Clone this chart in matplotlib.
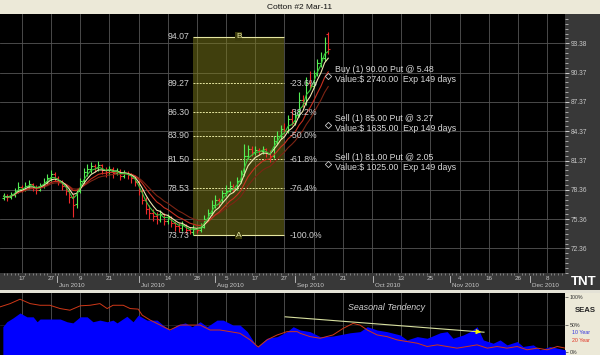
import numpy as np
import pandas as pd
import matplotlib
matplotlib.use("Agg")
import matplotlib.pyplot as plt
from matplotlib.patches import Rectangle

plt.rcParams['font.family'] = ['Liberation Sans', 'DejaVu Sans']

# daily bars, index 0 = first bar on screen (mid May 2010)
opens = [77.5, 77.7, 77.6, 77.8, 78.2, 78.7, 78.4, 78.8, 79.0, 78.7,
         78.4, 78.8, 79.2, 79.6, 80.0, 79.6, 79.2, 78.8, 78.3, 77.6,
         76.9, 78.2, 79.3, 80.2, 80.5, 80.8, 80.6, 80.9, 80.4, 80.2,
         80.5, 80.1, 80.3, 79.8, 80.1, 79.9, 79.6, 79.2, 78.2, 77.3,
         76.4, 76.0, 75.7, 75.3, 75.9, 75.2, 75.6, 75.0, 74.7, 74.5,
         74.8, 74.3, 74.1, 74.4, 74.3, 74.6, 75.4, 76.0, 76.8, 77.3,
         77.1, 78.0, 78.3, 78.8, 78.5, 79.3, 80.0, 81.8, 82.6, 82.2,
         82.5, 82.3, 82.6, 82.1, 81.8, 83.4, 83.9, 84.6, 84.4, 85.6,
         85.2, 86.0, 87.6, 87.3, 89.3, 89.0, 90.3, 91.4, 91.9, 94.3]
highs = [78.0, 77.9, 78.1, 78.6, 79.2, 78.9, 79.2, 79.4, 79.1, 78.9,
         79.1, 79.6, 80.0, 80.4, 80.2, 79.8, 79.4, 79.0, 78.5, 77.9,
         78.5, 79.6, 80.6, 81.0, 81.2, 81.0, 81.3, 81.0, 80.7, 80.8,
         80.7, 80.6, 80.5, 80.4, 80.3, 80.1, 79.8, 79.4, 78.5, 77.6,
         76.8, 76.4, 76.1, 76.3, 76.0, 75.9, 75.7, 75.2, 75.0, 75.2,
         74.9, 74.6, 74.8, 74.6, 75.0, 75.8, 76.4, 77.3, 77.8, 77.5,
         78.4, 78.9, 79.3, 79.0, 79.7, 80.4, 83.1, 83.0, 82.9, 82.9,
         82.7, 82.9, 82.7, 82.4, 83.9, 84.4, 85.0, 85.2, 86.0, 86.6,
         86.4, 88.4, 88.1, 89.9, 90.5, 90.6, 91.8, 92.5, 94.0, 94.5]
lows = [77.3, 77.2, 77.4, 77.6, 78.0, 78.1, 78.2, 78.5, 78.3, 77.9,
        78.2, 78.6, 79.0, 79.3, 79.3, 78.9, 78.4, 77.8, 77.0, 75.6,
        76.5, 78.0, 79.0, 79.8, 80.1, 80.2, 80.3, 80.0, 79.7, 79.9,
        79.6, 79.9, 79.4, 79.6, 79.5, 79.1, 78.8, 77.8, 76.9, 75.9,
        75.4, 75.2, 74.9, 75.1, 74.8, 74.9, 74.6, 74.2, 74.0, 74.2,
        73.9, 73.8, 73.73, 73.9, 74.1, 74.5, 75.2, 75.8, 76.5, 76.6,
        77.0, 77.7, 78.1, 78.1, 78.4, 79.1, 79.8, 81.5, 81.8, 81.9,
        81.9, 82.0, 81.7, 81.2, 81.6, 83.1, 83.6, 84.1, 84.2, 85.0,
        85.0, 85.8, 86.9, 87.1, 88.7, 88.8, 90.0, 90.9, 91.6, 92.3]
closes = [77.7, 77.6, 77.8, 78.2, 78.7, 78.5, 78.8, 79.0, 78.7, 78.4,
          78.8, 79.2, 79.6, 80.0, 79.6, 79.2, 78.8, 78.3, 77.6, 76.8,
          78.2, 79.3, 80.2, 80.5, 80.8, 80.6, 80.9, 80.4, 80.2, 80.5,
          80.1, 80.3, 79.8, 80.1, 79.9, 79.6, 79.2, 78.2, 77.3, 76.4,
          76.0, 75.7, 75.4, 75.9, 75.2, 75.6, 75.0, 74.7, 74.5, 74.8,
          74.3, 74.1, 74.4, 74.3, 74.6, 75.4, 76.0, 76.8, 77.3, 77.1,
          78.0, 78.3, 78.8, 78.5, 79.3, 80.0, 81.8, 82.6, 82.2, 82.5,
          82.3, 82.6, 82.1, 81.8, 83.4, 83.9, 84.6, 84.4, 85.6, 85.2,
          86.0, 87.6, 87.3, 89.3, 89.0, 90.3, 91.4, 91.9, 93.4, 92.8]

fib_prices = [94.07, 89.27, 86.30, 83.90, 81.50, 78.53, 73.73]
fib_pcts = ['', '-23.6%', '-38.2%', '-50.0%', '-61.8%', '-76.4%', '-100.0%']

right_ticks = [93.38, 90.37, 87.37, 84.37, 81.37, 78.36, 75.36, 72.36]

day_labels = ['17', '27', '9', '21', '', '14', '28', '5', '17', '27',
              '8', '21', '', '13', '25', '4', '16', '26', '8']
month_labels = ['Jun 2010', 'Jul 2010', 'Aug 2010', 'Sep 2010',
                'Oct 2010', 'Nov 2010', 'Dec 2010']
month_pos = [14.7, 37.0, 58.0, 79.9, 101.3, 122.3, 144.3]

put_strikes = [90.00, 85.00, 81.00]
put_text = ['Buy (1) 90.00 Put @ 5.48\nValue:$ 2740.00  Exp 149 days',
            'Sell (1) 85.00 Put @ 3.27\nValue:$ 1635.00  Exp 149 days',
            'Sell (1) 81.00 Put @ 2.05\nValue:$ 1025.00  Exp 149 days']

# seasonal tendency (% scale), bar index positions
seas10_x = [-0.2, 0.9, 2.6, 4.5, 6.4, 8.1, 9.2, 10.0, 12.7, 15.5, 17.4, 19.0,
            21.0, 22.9, 24.5, 26.4, 28.4, 30.0, 31.1, 33.8, 35.5, 36.9, 39.3,
            42.1, 43.7, 45.6, 47.6, 49.8, 51.7, 53.9, 55.8, 58.5, 60.2, 62.9,
            64.8, 66.8, 69.5, 72.2, 75.0, 77.7, 79.4, 81.3, 84.0, 86.8, 90.3,
            95.0, 97.7, 99.7, 102.4, 105.1, 108.7, 110.6, 113.4, 116.1, 119.7,
            121.6, 123.2, 126.0, 127.9, 129.8, 131.5, 134.2, 136.1, 138.0,
            140.8, 142.4, 145.2, 147.1, 149.8, 151.8, 154.0]
seas10 = [46, 55, 62, 71, 64, 64, 55, 60, 60, 60, 55, 53,
          64, 64, 55, 58, 55, 58, 53, 65, 55, 67, 58,
          58, 49, 40, 49, 53, 46, 55, 46, 58, 58, 49,
          49, 37, 9, 25, 28, 37, 46, 40, 37, 28, 29,
          35, 37, 46, 40, 37, 31, 22, 28, 25, 35,
          37, 25, 31, 37, 46, 22, 16, 22, 13,
          19, 10, 13, 4, 10, 7, 4]
seas20_x = [-1.0, 1.8, 4.5, 7.3, 10.0, 12.7, 15.5, 18.2, 21.0, 23.7, 26.4, 28.4,
            30.0, 32.8, 34.7, 36.9, 38.0, 40.2, 42.9, 45.6, 48.4, 51.1, 53.9,
            56.6, 59.3, 62.1, 64.8, 67.6, 69.8, 72.2, 75.0, 77.7, 80.5, 81.3,
            84.0, 86.8, 90.3, 93.1, 95.8, 97.7, 99.7, 102.4, 105.1, 107.9,
            110.6, 113.4, 116.1, 118.9, 121.6, 124.3, 127.1, 129.8, 132.6,
            135.3, 138.0, 140.8, 143.5, 146.3, 149.0, 151.8, 154.0]
seas20 = [82, 88, 96, 88, 85, 85, 79, 76, 84, 85, 88, 79,
          85, 85, 79, 78, 67, 58, 49, 40, 49, 49, 49,
          40, 40, 37, 34, 22, 9, 22, 31, 37, 37, 34,
          28, 25, 31, 43, 52, 49, 40, 31, 28, 22,
          19, 16, 10, 13, 10, 7, 10, 13, 7,
          10, 7, 10, 4, 7, 4, 10, 7]

W, H = 600, 355
BG = '#383838'
BEIGE = '#ECE9D8'
TXT = '#d0d0d0'
GRID = '#555555'


def fy(py):
    return 1 - py / H


fig = plt.figure(figsize=(6, 3.55), dpi=100, facecolor=BG)
ax = fig.add_axes([0, fy(273), 565 / W, (273 - 14) / H], facecolor='black')
ax2 = fig.add_axes([0, 0, 565 / W, (355 - 293) / H], facecolor='black')

# frame pieces (behind the axes so tick labels stay visible)
for rect in [(0, fy(14), 1, 14 / H, BEIGE),
             (0, fy(293), 1, 3 / H, '#e4e2d6'),
             (565 / W, 0, 35 / W, (355 - 293) / H, BEIGE)]:
    fig.patches.append(Rectangle(rect[:2], rect[2], rect[3], transform=fig.transFigure,
                                 facecolor=rect[4], edgecolor='none', zorder=-1))
fig.text(0.5, fy(7.5), 'Cotton #2 Mar-11', ha='center', va='center', fontsize=6, color='#111111')
fig.text(584 / W, fy(282), 'TNT', ha='center', va='center', fontsize=9.5, weight='bold',
         color='white', family=['Liberation Sans Narrow', 'Liberation Sans'])

xlim = (-0.98, 153.9)
grid_pos = 5 + 8 * np.arange(len(day_labels))

# ---- price panel ----
x = np.arange(len(closes))
o = np.array(opens)
c = np.array(closes)
cols = np.where(c >= o, '#55ee55', '#ee2a2a')
ax.vlines(x, lows, highs, colors=cols, lw=0.8, zorder=3)
ax.hlines(o, x - 0.5, x, colors=cols, lw=0.8, zorder=3)
ax.hlines(c, x, x + 0.5, colors=cols, lw=0.8, zorder=3)

s = pd.Series(closes)
for span, col in [(14, '#7c2414'), (9, '#c83020'), (5, '#f0e6b0'), (3, '#3cc83c')]:
    ax.plot(x, s.ewm(span=span).mean(), color=col, lw=0.8, zorder=4)

# fibonacci retracement box
box_l, box_r = 52, 76.9
ax.add_patch(Rectangle((box_l, fib_prices[-1]), box_r - box_l, fib_prices[0] - fib_prices[-1],
                       facecolor='#807e1a', alpha=0.5, edgecolor='none', zorder=1))
for i, (p, pct) in enumerate(zip(fib_prices, fib_pcts)):
    solid = i in (0, len(fib_prices) - 1)
    ax.hlines(p, box_l, box_r, colors='#e6e6a0', lw=0.8 if solid else 0.7,
              linestyles='-' if solid else (0, (2, 1.2)), zorder=2)
    ax.annotate(f'{p:.2f}', xy=(box_l, p), xytext=(-2.5, 0), textcoords='offset points',
                ha='right', va='center', fontsize=6.3, color=TXT, zorder=5)
    if pct:
        ax.annotate(pct, xy=(box_r, p), xytext=(4.2, 0), textcoords='offset points',
                    ha='left', va='center', fontsize=6.3, color=TXT, zorder=5)
for p, lab in [(fib_prices[0], 'B'), (fib_prices[-1], 'A')]:
    ax.text((box_l + box_r) / 2, p, lab, ha='center', va='center', fontsize=6, color='#e6e6a0',
            bbox=dict(facecolor='#3c3b0c', edgecolor='none', pad=0.6), zorder=5)

# option legs
for strike, txt in zip(put_strikes, put_text):
    ax.plot(89, strike, marker='D', ms=3.2, mfc='none', mec='#c8c8c8', mew=0.6, zorder=5)
    ax.annotate(txt, xy=(89, strike), xytext=(4.8, 1.2), textcoords='offset points',
                ha='left', va='center', fontsize=6.3, color='#d8d8d8', linespacing=1.1, zorder=5)

ax.set_xlim(*xlim)
ax.set_ylim(69.85, 96.38)
for sp in ax.spines.values():
    sp.set_visible(False)
ax.set_xticks(grid_pos)
ax.set_xticklabels(day_labels)
ax.set_xticks(np.arange(0, 154), minor=True)
ax.tick_params(axis='x', which='major', length=0, pad=2.0, labelsize=4.5, labelcolor='#c8c8c8')
ax.tick_params(axis='x', which='minor', length=1.6, width=0.4, color='#b8b8b8')
ax.yaxis.tick_right()
ax.set_yticks(right_ticks)
ax.set_yticklabels([f'{v:.2f}' for v in right_ticks])
step = (right_ticks[0] - right_ticks[-1]) / 42
ax.set_yticks(right_ticks[-1] + step * np.arange(-5, 48), minor=True)
ax.tick_params(axis='y', which='major', length=3, width=0.6, color='#d8d8d8', pad=1,
               labelsize=4.8, labelcolor='#c8c8c8')
ax.tick_params(axis='y', which='minor', length=1.8, width=0.5, color='#d8d8d8')
ax.grid(True, which='major', color=GRID, lw=0.6, zorder=0)
ax.set_axisbelow(True)

for pos, lab in zip(month_pos, month_labels):
    ax.annotate(lab, xy=(pos, 0), xycoords=('data', 'axes fraction'), xytext=(1.5, -7.0),
                textcoords='offset points', ha='left', va='top', fontsize=4.5,
                color='#c8c8c8', annotation_clip=False)
    ax.plot([pos, pos], [-0.01, -0.036], transform=ax.get_xaxis_transform(),
            color='#c8c8c8', lw=0.6, clip_on=False)

# ---- seasonal panel ----
ax2.fill_between(seas10_x, seas10, -10, color='#0000ff', lw=0, zorder=2)
ax2.plot(seas20_x, seas20, color='#d03818', lw=0.7, zorder=3)
ax2.set_xlim(*xlim)
ax2.set_ylim(-5.45, 107.3)
for sp in ax2.spines.values():
    sp.set_visible(False)
ax2.set_xticks(grid_pos)
ax2.set_xticklabels([])
ax2.tick_params(axis='x', length=0)
ax2.grid(True, axis='x', color=GRID, lw=0.6)
ax2.set_axisbelow(True)
ax2.axhline(50, color='#2a2a2a', lw=0.5, zorder=0)
ax2.yaxis.tick_right()
ax2.set_yticks([0, 50, 100])
ax2.set_yticklabels(['0%', '50%', '100%'])
ax2.tick_params(axis='y', length=2.5, width=0.5, color='#404040', pad=0.8,
                labelsize=3.8, labelcolor='#303030')

ax2.text(104.9, 81.8, 'Seasonal Tendency', style='italic', ha='center', va='center',
         fontsize=6.4, color='#d0d0d0')
arrow_start, arrow_end = (77.2, 64), (131.7, 36)
ax2.plot([arrow_start[0], arrow_end[0]], [arrow_start[1], arrow_end[1]],
         color='#d8e0a0', lw=0.8, zorder=4)
head_from = (arrow_end[0] - 3.5, arrow_end[1] + 3.5 * (arrow_start[1] - arrow_end[1]) / (arrow_end[0] - arrow_start[0]))
ax2.annotate('', xy=arrow_end, xytext=head_from,
             arrowprops=dict(arrowstyle='-|>', color='#f4f400', lw=0.8, mutation_scale=7), zorder=5)

fig.text(585 / W, fy(311), 'SEAS', ha='center', va='center', fontsize=5.6, weight='bold', color='#222222')
fig.text(572 / W, fy(332), '10 Year', ha='left', va='center', fontsize=3.8, color='#3333dd')
fig.text(572 / W, fy(341), '20 Year', ha='left', va='center', fontsize=3.8, color='#e03020')

fig.savefig('out.png', dpi=100, facecolor=BG)
